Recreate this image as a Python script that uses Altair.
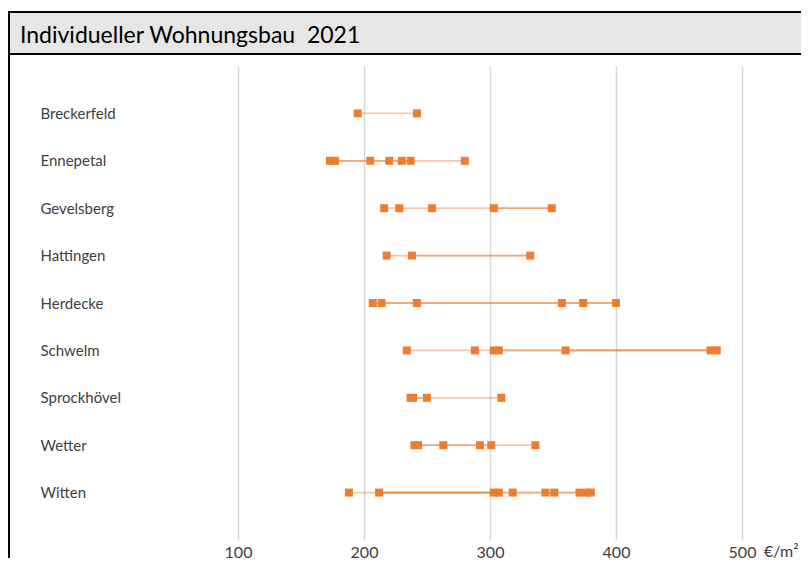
import altair as alt
import pandas as pd

cities = ["Breckerfeld", "Ennepetal", "Gevelsberg", "Hattingen", "Herdecke",
          "Schwelm", "Sprockhövel", "Wetter", "Witten"]

# price points (€/m²) per city
point_values = {
    "Breckerfeld": [195, 242],
    "Ennepetal": [173, 177, 205, 220, 230, 237, 280],
    "Gevelsberg": [216, 228, 254, 303, 349],
    "Hattingen": [218, 238, 332],
    "Herdecke": [207, 214, 242, 357, 374, 400],
    "Schwelm": [234, 288, 303, 307, 360, 475, 480],
    "Sprockhövel": [237, 239, 250, 309],
    "Wetter": [240, 243, 263, 292, 301, 336],
    "Witten": [188, 212, 303, 307, 318, 344, 351, 371, 377, 380],
}

# ranges (low, high) per city, drawn as connecting lines
range_values = {
    "Breckerfeld": [(195, 242)],
    "Ennepetal": [(173, 280), (177, 237)],
    "Gevelsberg": [(216, 349), (303, 349)],
    "Hattingen": [(218, 332), (238, 332)],
    "Herdecke": [(207, 400), (214, 400)],
    "Schwelm": [(234, 303), (303, 480), (307, 480), (360, 475)],
    "Sprockhövel": [(237, 309), (239, 250)],
    "Wetter": [(240, 336), (243, 301)],
    "Witten": [(188, 380), (212, 380), (212, 307), (211, 303)],
}

tick_values = [100, 200, 300, 400, 500]
title_text = "Individueller Wohnungsbau\u00a0\u00a02021"
unit_text = "€/m²"

pts = pd.DataFrame([{"city": c, "value": v} for c in cities for v in point_values[c]])
rng = pd.DataFrame([{"city": c, "low": a, "high": b} for c in cities for a, b in range_values[c]])

ORANGE = "#ED7D31"
FONT = "Lato"
W, H = 689, 474

xscale = alt.Scale(domain=[0, W / 1.26], nice=False, zero=False)
yscale = alt.Scale(type="point", padding=1, domain=cities)

xaxis = alt.Axis(values=tick_values, grid=True, gridColor="#d9d9d9", gridWidth=1.5,
                 domain=False, ticks=False, tickSize=0, labelFontSize=16,
                 labelColor="#404040", labelFont=FONT, labelPadding=4, title=None)
yaxis = alt.Axis(grid=False, domain=False, ticks=False, tickSize=0, labelAlign="left",
                 labelPadding=72, labelFontSize=15, labelColor="#404040",
                 labelFont=FONT, title=None, labelBaseline="middle")

lines = alt.Chart(rng).mark_rule(color=ORANGE, strokeWidth=1.8, opacity=0.42).encode(
    x=alt.X("low:Q", scale=xscale, axis=xaxis),
    x2="high:Q",
    y=alt.Y("city:N", scale=yscale, axis=yaxis, sort=cities),
)

squares = alt.Chart(pts).mark_square(color=ORANGE, size=64, opacity=1, filled=True).encode(
    x=alt.X("value:Q", scale=xscale),
    y=alt.Y("city:N", scale=yscale, sort=cities),
)

one = alt.Data(values=[{}])

title_bar = alt.Chart(one).mark_rect(fill="#e6e6e6", stroke="black", strokeWidth=2).encode(
    x=alt.value(-103), x2=alt.value(W + 20), y=alt.value(-54), y2=alt.value(-12)
)
frame_left = alt.Chart(one).mark_rule(color="black", strokeWidth=2).encode(
    x=alt.value(-103), y=alt.value(-54), y2=alt.value(H + 40)
)
title = alt.Chart(one).mark_text(align="left", baseline="alphabetic", fontSize=23,
                                 font=FONT, color="black", text=title_text).encode(
    x=alt.value(-92), y=alt.value(-23)
)
unit = alt.Chart(one).mark_text(align="left", baseline="top", fontSize=16, font=FONT,
                                color="#404040", text=unit_text, dx=22).encode(
    x=alt.X(datum=500, scale=xscale), y=alt.value(H + 4)
)

chart = alt.layer(title_bar, frame_left, title, lines, squares, unit).properties(
    width=W, height=H,
    padding={"left": 104, "top": 58, "right": 0, "bottom": 18},
    autosize=alt.AutoSizeParams(type="none"),
).configure_view(strokeWidth=0)

chart.save("out.html", embed_options={"renderer": "svg", "actions": False})
